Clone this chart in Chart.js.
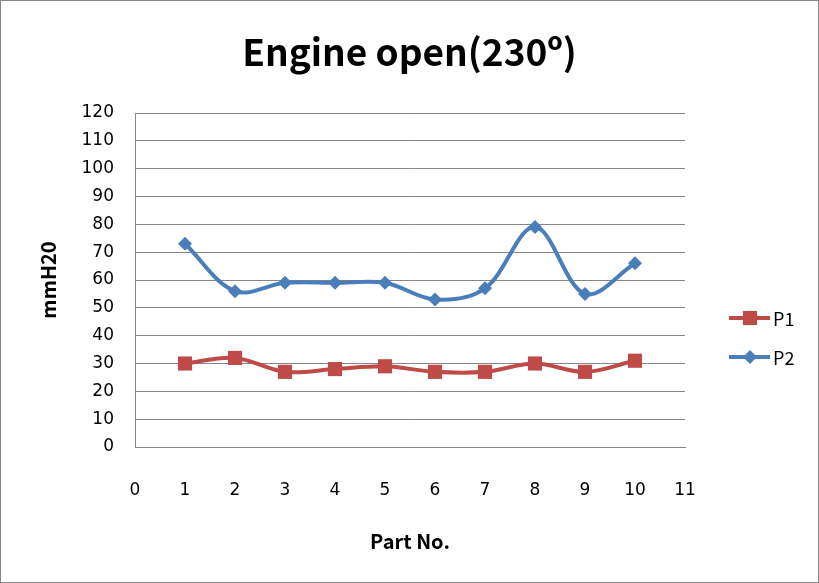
<!DOCTYPE html>
<html>
<head>
<meta charset="utf-8">
<script src="https://cdn.jsdelivr.net/npm/chart.js@4"></script>
<style>
  html, body { margin: 0; padding: 0; background: #fff; }
  #wrap { width: 819px; height: 583px; position: relative; }
</style>
</head>
<body>
<div id="wrap"><canvas id="grafico"></canvas></div>
<script>
// Dados do gráfico
const partNo = [1, 2, 3, 4, 5, 6, 7, 8, 9, 10];
const p1 = [30, 32, 27, 28, 29, 27, 27, 30, 27, 31];
const p2 = [73, 56, 59, 59, 59, 53, 57, 79, 55, 66];
const seriesNames = ['P1', 'P2'];
const chartTitle = 'Engine open(230º)';
const xTitle = 'Part No.';
const yTitle = 'mmH20';

const fonte = '"Noto Sans CJK KR", "Noto Sans", sans-serif';
const fonteTicks = '"DejaVu Sans", sans-serif';
const corGrade = '#868686';
const cores = ['#BE4B48', '#4A7EBB'];

// Título, legenda e moldura desenhados à mão (estilo Excel)
const decoracao = {
  id: 'decoracao',
  afterDraw(chart) {
    const ctx = chart.ctx;
    ctx.save();
    // moldura
    ctx.strokeStyle = corGrade;
    ctx.lineWidth = 1;
    ctx.strokeRect(0.5, 0.5, chart.width - 1, chart.height - 1);
    // título
    ctx.fillStyle = '#000';
    ctx.font = 'bold 37px ' + fonte;
    ctx.textAlign = 'center';
    ctx.textBaseline = 'middle';
    ctx.fillText(chartTitle, chart.width / 2, 52);
    // legenda
    const estilos = ['rect', 'rectRot'];
    const raios = [10, 7];
    const ys = [318, 357];
    chart.data.datasets.forEach((ds, i) => {
      ctx.strokeStyle = cores[i];
      ctx.lineWidth = 4;
      ctx.beginPath();
      ctx.moveTo(729, ys[i]);
      ctx.lineTo(770, ys[i]);
      ctx.stroke();
      ctx.fillStyle = cores[i];
      Chart.helpers.drawPoint(ctx, { pointStyle: estilos[i], radius: raios[i], borderWidth: 0 }, 750, ys[i]);
      ctx.fillStyle = '#000';
      ctx.font = '18px ' + fonte;
      ctx.textAlign = 'left';
      ctx.fillText(ds.label, 773, ys[i] + 1);
    });
    ctx.restore();
  }
};

const ctx = document.getElementById('grafico').getContext('2d');
const grafico = new Chart(ctx, {
  type: 'line',
  data: {
    datasets: [
      {
        label: seriesNames[0],
        data: partNo.map((x, i) => ({ x: x, y: p1[i] })),
        borderColor: cores[0],
        backgroundColor: cores[0],
        borderWidth: 4,
        pointStyle: 'rect',
        pointRadius: 10,
        pointBorderWidth: 0,
        tension: 0.35
      },
      {
        label: seriesNames[1],
        data: partNo.map((x, i) => ({ x: x, y: p2[i] })),
        borderColor: cores[1],
        backgroundColor: cores[1],
        borderWidth: 4,
        pointStyle: 'rectRot',
        pointRadius: 7,
        pointBorderWidth: 0,
        tension: 0.35
      }
    ]
  },
  options: {
    responsive: true,
    maintainAspectRatio: false,
    animation: false,
    layout: { padding: { top: 113, right: 134, left: 0, bottom: 0 } },
    plugins: {
      legend: { display: false },
      title: { display: false },
      tooltip: { enabled: false }
    },
    scales: {
      x: {
        type: 'linear',
        min: 0,
        max: 11,
        afterFit: (scale) => { scale.height = 136; },
        ticks: { stepSize: 1, color: '#000', padding: 33, font: { family: fonteTicks, size: 17 } },
        grid: { display: false, drawTicks: false },
        border: { display: true, color: corGrade, width: 1 },
        title: { display: true, text: xTitle, color: '#000', padding: { top: 0, bottom: 30 }, font: { family: fonte, size: 20, weight: 'bold' } }
      },
      y: {
        min: 0,
        max: 120,
        afterFit: (scale) => { scale.width = 135; },
        ticks: { stepSize: 10, color: '#000', padding: 21, font: { family: fonteTicks, size: 17 } },
        grid: { color: corGrade, drawTicks: false },
        border: { display: true, color: corGrade, width: 1 },
        title: { display: true, text: yTitle, color: '#000', padding: { top: 36, bottom: 0 }, font: { family: fonte, size: 20, weight: 'bold' } }
      }
    }
  },
  plugins: [decoracao]
});
</script>
</body>
</html>
